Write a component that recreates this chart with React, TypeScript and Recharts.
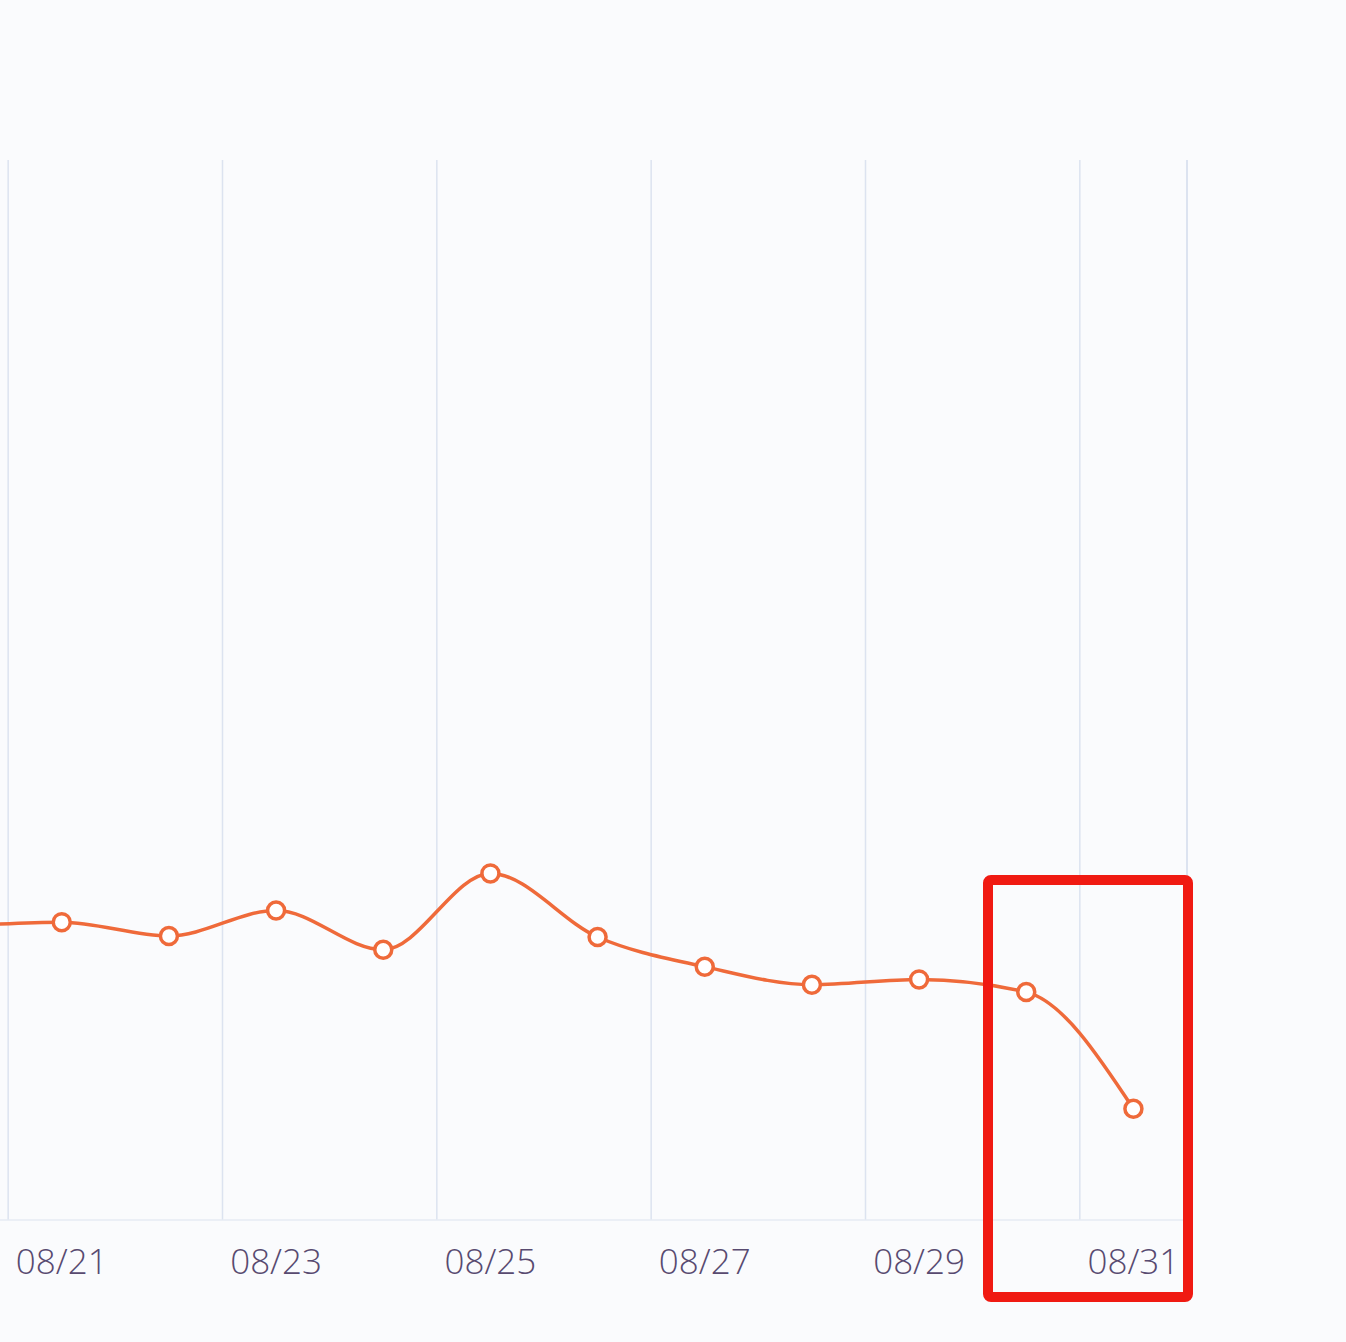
import React from 'react';
import { LineChart, Line, XAxis, YAxis, ReferenceLine } from 'recharts';

const dates = ['08/20', '08/21', '08/22', '08/23', '08/24', '08/25', '08/26', '08/27', '08/28', '08/29', '08/30', '08/31'];
const values = [27.7, 28.1, 26.8, 29.2, 25.5, 32.7, 26.7, 23.9, 22.2, 22.7, 21.5, 10.5];
const tickLabels = ['08/21', '08/23', '08/25', '08/27', '08/29', '08/31'];
const gridStarts = ['08/21', '08/23', '08/25', '08/27', '08/29', '08/31'];
const gridEnd = '08/31';

const data = dates.map((d, i) => ({ date: d, value: values[i] }));

const LINE_COLOR = '#EF6A3A';
const GRID_COLOR = '#dce3f0';
const BG = '#fafbfd';

export default function App() {
  return (
    <div
      style={{
        position: 'absolute',
        left: 0,
        top: 0,
        width: 1346,
        height: 1342,
        overflow: 'hidden',
        background: BG,
      }}
    >
      <div style={{ position: 'absolute', left: -100, top: 0 }}>
        <LineChart
          width={1446}
          height={1342}
          data={data}
          margin={{ top: 160, right: 159, bottom: 62, left: 1 }}
        >
          <XAxis
            dataKey="date"
            scale="band"
            ticks={tickLabels}
            interval={0}
            height={60}
            tickLine={false}
            tickSize={0}
            tickMargin={29}
            axisLine={{ stroke: '#e6ebf3', strokeWidth: 1.5 }}
            tick={{ fill: '#584a70', fontSize: 35, fontFamily: 'Open Sans', fontWeight: 300 }}
          />
          <YAxis hide domain={[0, 100]} />
          {gridStarts.map((d) => (
            <ReferenceLine key={d} x={d} position="start" stroke={GRID_COLOR} strokeWidth={1.5} ifOverflow="visible" />
          ))}
          <ReferenceLine x={gridEnd} position="end" stroke={GRID_COLOR} strokeWidth={2} ifOverflow="visible" />
          <Line
            type="monotone"
            dataKey="value"
            stroke={LINE_COLOR}
            strokeWidth={3.5}
            dot={{ r: 8.5, fill: '#ffffff', stroke: LINE_COLOR, strokeWidth: 3.5 }}
            activeDot={false}
            isAnimationActive={false}
          />
        </LineChart>
      </div>
      <div
        style={{
          position: 'absolute',
          left: 983,
          top: 875,
          width: 210,
          height: 427,
          boxSizing: 'border-box',
          border: '10px solid #f01a12',
          borderRadius: 8,
        }}
      />
    </div>
  );
}
